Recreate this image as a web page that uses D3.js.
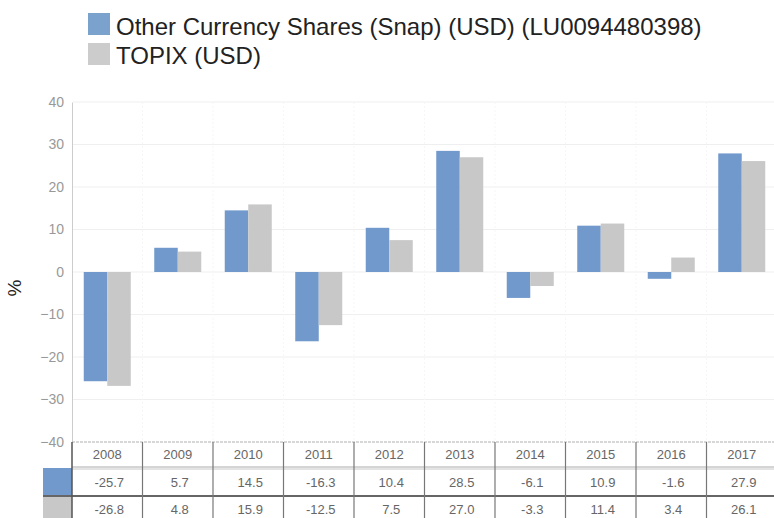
<!DOCTYPE html>
<html><head><meta charset="utf-8">
<script src="https://cdn.jsdelivr.net/npm/d3@7"></script>
<style>body{margin:0;background:#fff}svg{display:block}</style>
</head><body>
<svg id="c" width="774" height="518"></svg>
<script>
const years = ["2008","2009","2010","2011","2012","2013","2014","2015","2016","2017"];
const fundValues = [-25.7, 5.7, 14.5, -16.3, 10.4, 28.5, -6.1, 10.9, -1.6, 27.9];
const topixValues = [-26.8, 4.8, 15.9, -12.5, 7.5, 27.0, -3.3, 11.4, 3.4, 26.1];
const seriesNames = ["Other Currency Shares (Snap) (USD) (LU0094480398)", "TOPIX (USD)"];
const yTicks = [40, 30, 20, 10, 0, -10, -20, -30, -40];
const colors = ["#7199cc", "#c8c8c8"];
const legendColors = ["#7ba1cd", "#cccccc"];

const svg = d3.select("#c");
const x = d3.scaleBand().domain(years).range([72, 777]).padding(0);
const y = d3.scaleLinear().domain([-40, 40]).range([442, 102]);
const bw = x.bandwidth();
const barW = bw / 3;

// gridlines
svg.append("g").selectAll("line").data(yTicks.filter(d => d > -40)).join("line")
  .attr("x1", 73).attr("x2", 774).attr("y1", d => y(d)).attr("y2", d => y(d))
  .attr("stroke", "#efefef").attr("stroke-width", 1);
svg.append("g").selectAll("line").data(years.slice(1)).join("line")
  .attr("x1", d => x(d)).attr("x2", d => x(d)).attr("y1", 102).attr("y2", 442)
  .attr("stroke", "#f6f6f6").attr("stroke-dasharray", "2,2");

// y axis
const yAxis = d3.axisLeft(y).tickValues(yTicks).tickSize(0).tickPadding(8);
const ga = svg.append("g").attr("transform", "translate(72,0)").call(yAxis);
ga.select(".domain").attr("stroke", "#cccccc");
ga.selectAll("text").attr("fill", "#999").attr("font-family", "Liberation Sans, Arial, sans-serif")
  .attr("font-size", 14);

// % label
svg.append("text").attr("transform", "translate(21,288) rotate(-90)")
  .attr("text-anchor", "middle").attr("font-family", "Liberation Sans, Arial, sans-serif")
  .attr("font-size", 19).attr("fill", "#222").text("%");

// bars
const series = [fundValues, topixValues];
series.forEach((vals, si) => {
  svg.append("g").selectAll("rect").data(years).join("rect")
    .attr("x", (d) => x(d) + bw / 6 + si * barW)
    .attr("width", barW)
    .attr("y", (d, i) => y(Math.max(0, vals[i])))
    .attr("height", (d, i) => Math.abs(y(vals[i]) - y(0)))
    .attr("fill", colors[si]);
});

// legend
const lg = svg.append("g");
seriesNames.forEach((n, i) => {
  lg.append("rect").attr("x", 88).attr("y", 13 + i * 30).attr("width", 22).attr("height", 22).attr("fill", legendColors[i]);
  lg.append("text").attr("x", 116).attr("y", 35 + i * 29).attr("font-family", "Liberation Sans, Arial, sans-serif")
    .attr("font-size", 24).attr("fill", "#222").text(n);
});

// data table
const t = svg.append("g");
// key cells
t.append("rect").attr("x", 43).attr("y", 468).attr("width", 29).attr("height", 27).attr("fill", colors[0]);
t.append("rect").attr("x", 43).attr("y", 497).attr("width", 29).attr("height", 21).attr("fill", colors[1]);
// horizontal lines
t.append("line").attr("x1", 72).attr("x2", 774).attr("y1", 442).attr("y2", 442).attr("stroke", "#b0b0b0").attr("stroke-dasharray", "3,1");
t.append("line").attr("x1", 72).attr("x2", 774).attr("y1", 467).attr("y2", 467).attr("stroke", "#aaaaaa").attr("stroke-width", 1);
t.append("line").attr("x1", 72).attr("x2", 774).attr("y1", 469).attr("y2", 469).attr("stroke", "#c8c8c8").attr("stroke-width", 1);
t.append("line").attr("x1", 43).attr("x2", 774).attr("y1", 496).attr("y2", 496).attr("stroke", "#333").attr("stroke-width", 1.5);
// vertical lines
t.append("line").attr("x1", 72).attr("x2", 72).attr("y1", 442).attr("y2", 518).attr("stroke", "#555").attr("stroke-width", 1.5);
t.selectAll("line.v").data(years.slice(1)).join("line").attr("class", "v")
  .attr("x1", d => x(d)).attr("x2", d => x(d)).attr("y1", 442).attr("y2", 518)
  .attr("stroke", "#777").attr("stroke-width", 1.2);
const tf = "Liberation Sans, Arial, sans-serif";
const rows = [years, fundValues.map(v => v.toFixed(1)), topixValues.map(v => v.toFixed(1))];
const rowY = [459, 487, 514];
rows.forEach((r, ri) => {
  t.append("g").selectAll("text").data(r).join("text")
    .attr("x", (d, i) => x(years[i]) + bw / 2 + (ri > 0 ? 2 : 0))
    .attr("y", rowY[ri]).attr("text-anchor", "middle")
    .attr("font-family", tf).attr("font-size", 13).attr("fill", "#666").text(d => d);
});
</script>
</body></html>
